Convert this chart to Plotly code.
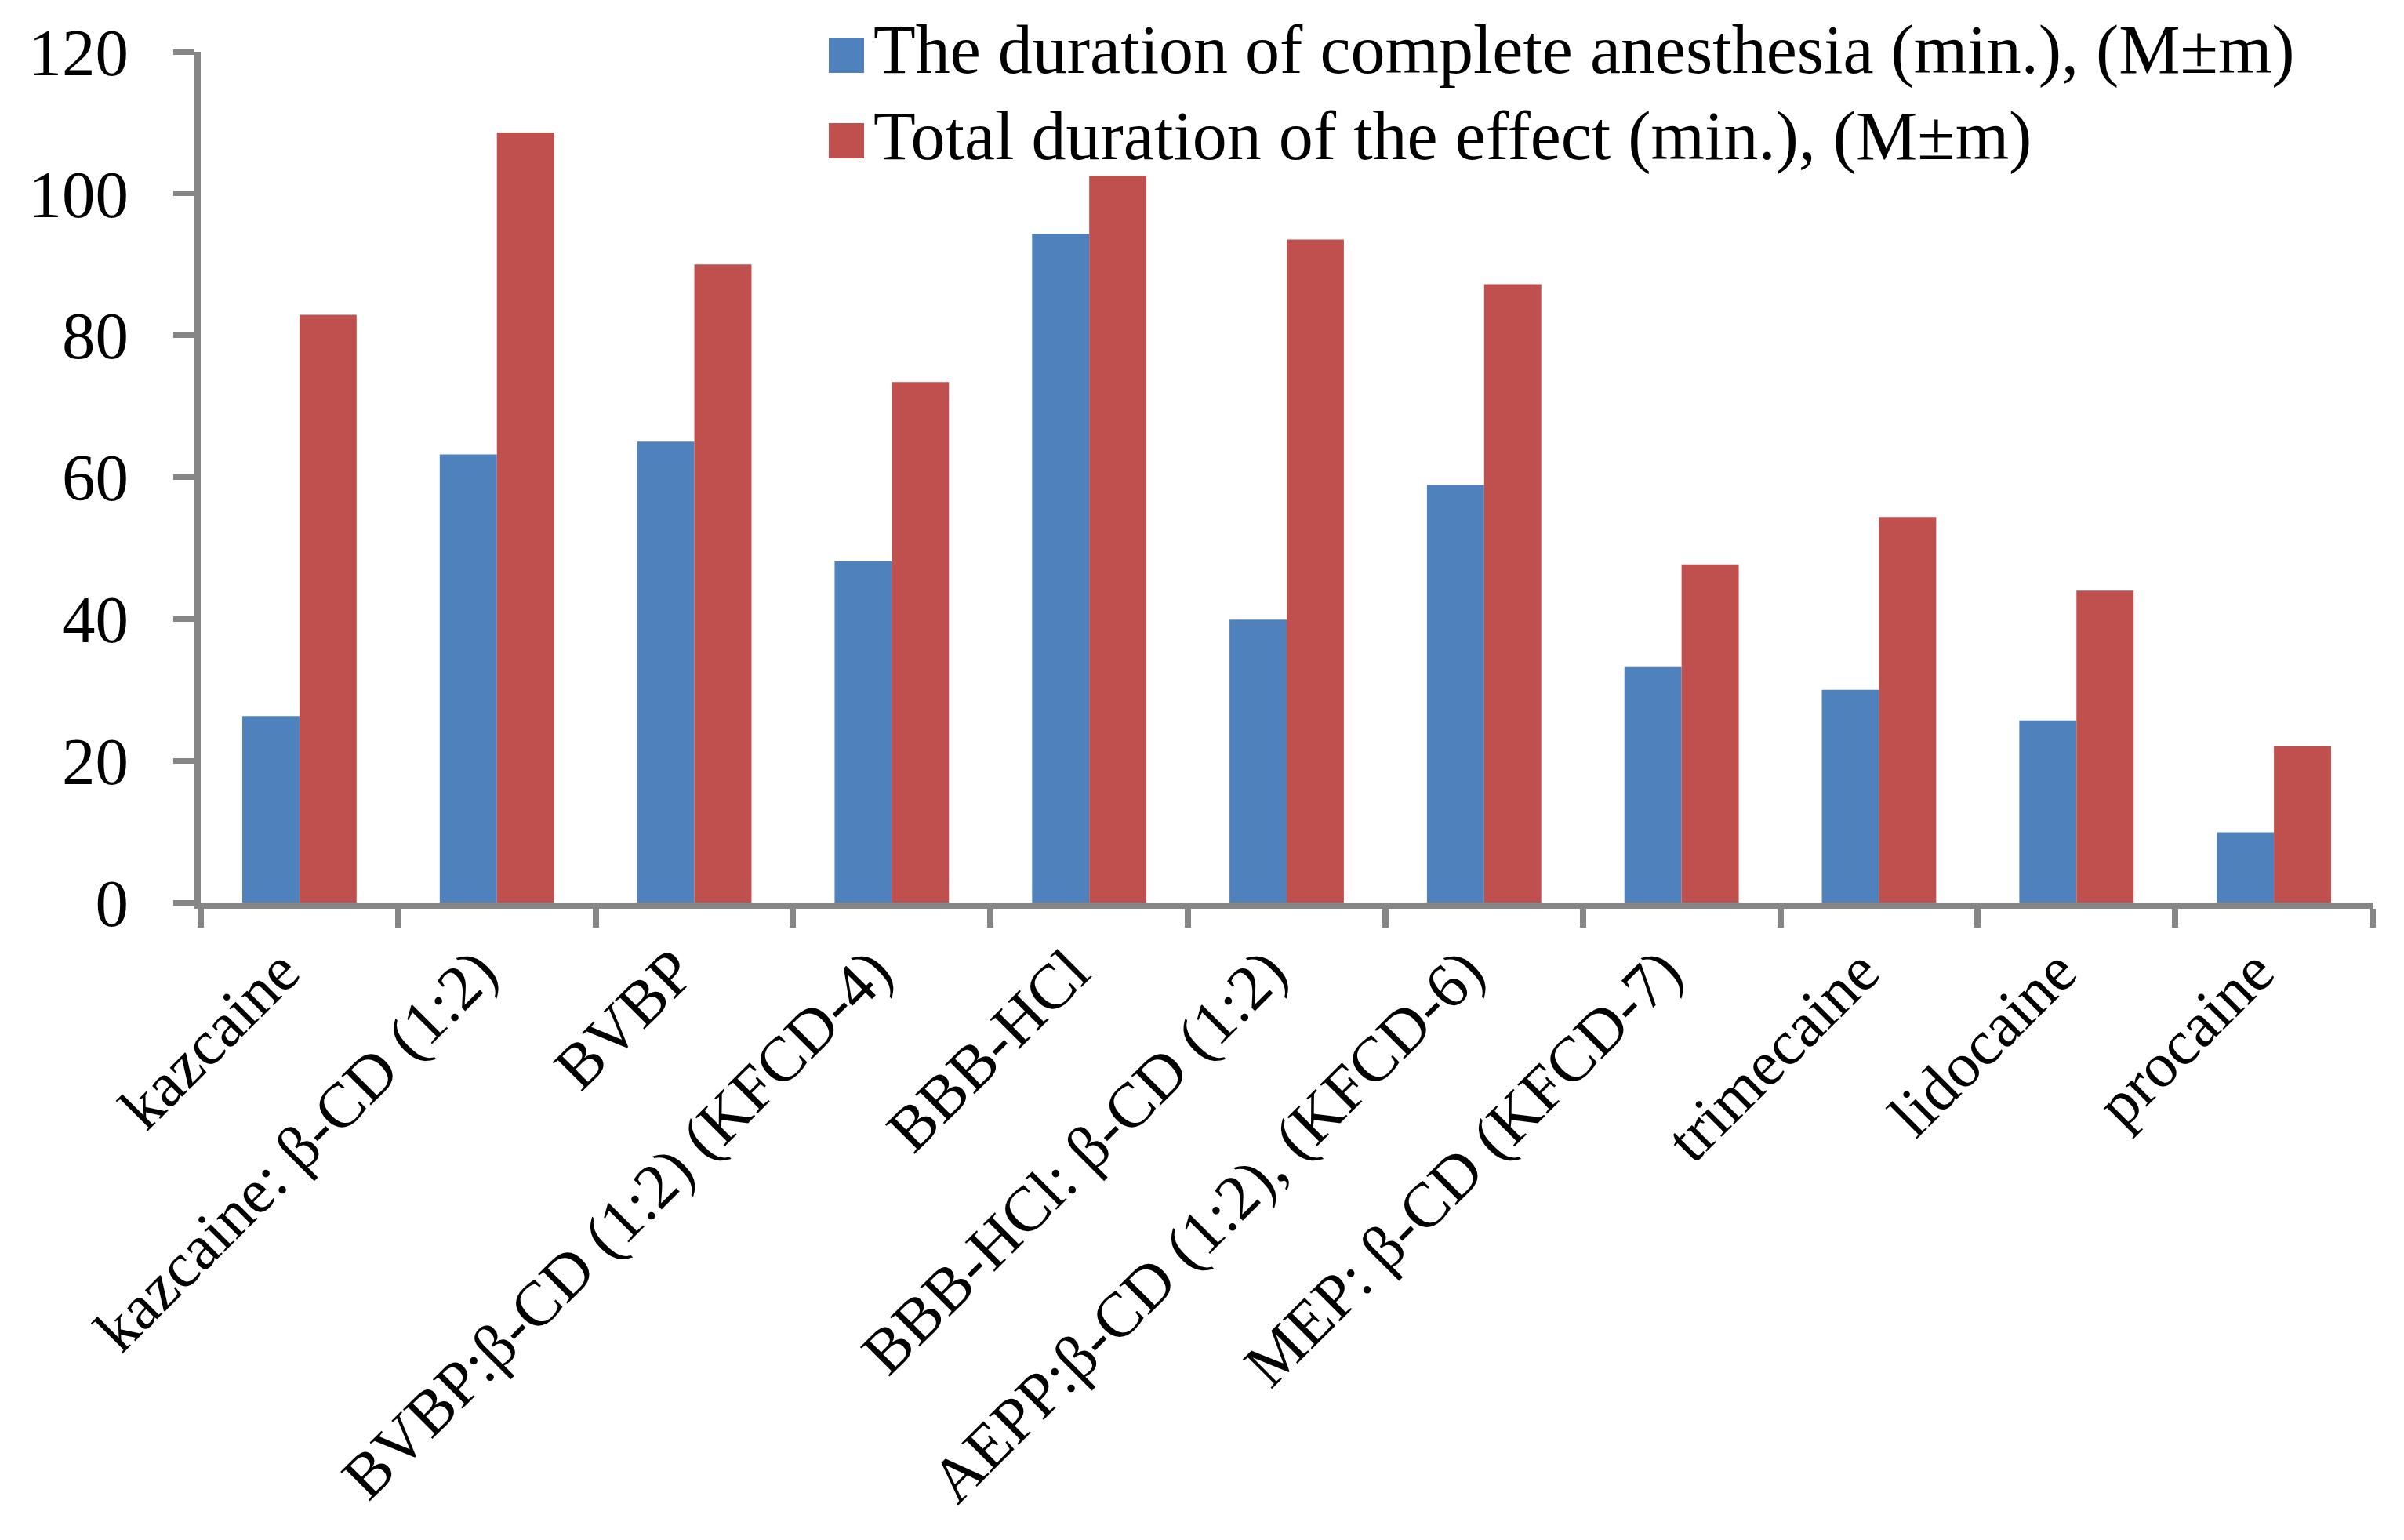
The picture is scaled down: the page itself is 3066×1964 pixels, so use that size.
import plotly.graph_objects as go

# ---- data ----
categories = [
    "kazcaine",
    "kazcaine: β-CD (1:2)",
    "BVBP",
    "BVBP:β-CD (1:2) (KFCD-4)",
    "BBB-HCl",
    "BBB-HCl: β-CD (1:2)",
    "AEPP:β-CD (1:2), (KFCD-6)",
    "MEP: β-CD (KFCD-7)",
    "trimecaine",
    "lidocaine",
    "procaine",
]
series_names = [
    "The duration of complete anesthesia (min.), (M±m)",
    "Total duration of the effect (min.), (M±m)",
]
complete_anesthesia = [26.3, 63.2, 65.0, 48.1, 94.3, 39.9, 58.9, 33.2, 30.0, 25.7, 9.9]
total_duration = [82.9, 108.6, 90.0, 73.4, 102.5, 93.5, 87.2, 47.7, 54.4, 44.0, 22.0]
y_ticks = [0, 20, 40, 60, 80, 100, 120]

# ---- style ----
W_PX, H_PX = 3066, 1964
L, R, T, B = 248, 3018, 58, 1143
colors = ["#4F81BD", "#C0504D"]
axis_color = "#868686"
FONT = "Liberation Serif"
FS = 85

fig = go.Figure()
for name, vals, col in zip(series_names, [complete_anesthesia, total_duration], colors):
    fig.add_trace(go.Bar(x=categories, y=vals, name=name, marker=dict(color=col, line=dict(width=0)),
                         showlegend=False))

def px_x(p):
    return (p - L) / (R - L)

def px_y(p):
    return (B - p) / (B - T)

# manual legend (large square keys)
legend_rows = [(40, 85, 60), (149, 194, 170)]
for (y0, y1, yc), name, col in zip(legend_rows, series_names, colors):
    fig.add_shape(type="rect", xref="paper", yref="paper",
                  x0=px_x(1049), x1=px_x(1094), y0=px_y(y1), y1=px_y(y0),
                  fillcolor=col, line=dict(width=0))
    fig.add_annotation(xref="paper", yref="paper", x=px_x(1104), y=px_y(yc - 4),
                       xanchor="left", yanchor="middle", text=name, showarrow=False,
                       font=dict(family=FONT, size=88, color="black"))

fig.update_layout(
    width=W_PX, height=H_PX,
    margin=dict(l=L, r=W_PX - R, t=T, b=H_PX - B, pad=0),
    paper_bgcolor="white", plot_bgcolor="white",
    barmode="group", bargap=0.421, bargroupgap=0,
    font=dict(family=FONT, size=FS, color="black"),
    xaxis=dict(
        type="category", tickangle=-45, tickson="boundaries",
        showline=True, linecolor=axis_color, linewidth=8,
        ticks="outside", ticklen=24, tickwidth=8, tickcolor=axis_color,
        showgrid=False, zeroline=False,
        tickfont=dict(family=FONT, size=81, color="black"),
        ticklabelshift=-24,
        automargin=False,
    ),
    yaxis=dict(
        range=[0, 120], tickvals=y_ticks, ticktext=[str(v) for v in y_ticks],
        showline=True, linecolor=axis_color, linewidth=8,
        ticks="outside", ticklen=27, tickwidth=7, tickcolor=axis_color,
        showgrid=False, zeroline=False,
        tickfont=dict(family=FONT, size=FS, color="black"),
        ticklabelstandoff=40,
        automargin=False,
    ),
)

fig.write_html("out.html")
